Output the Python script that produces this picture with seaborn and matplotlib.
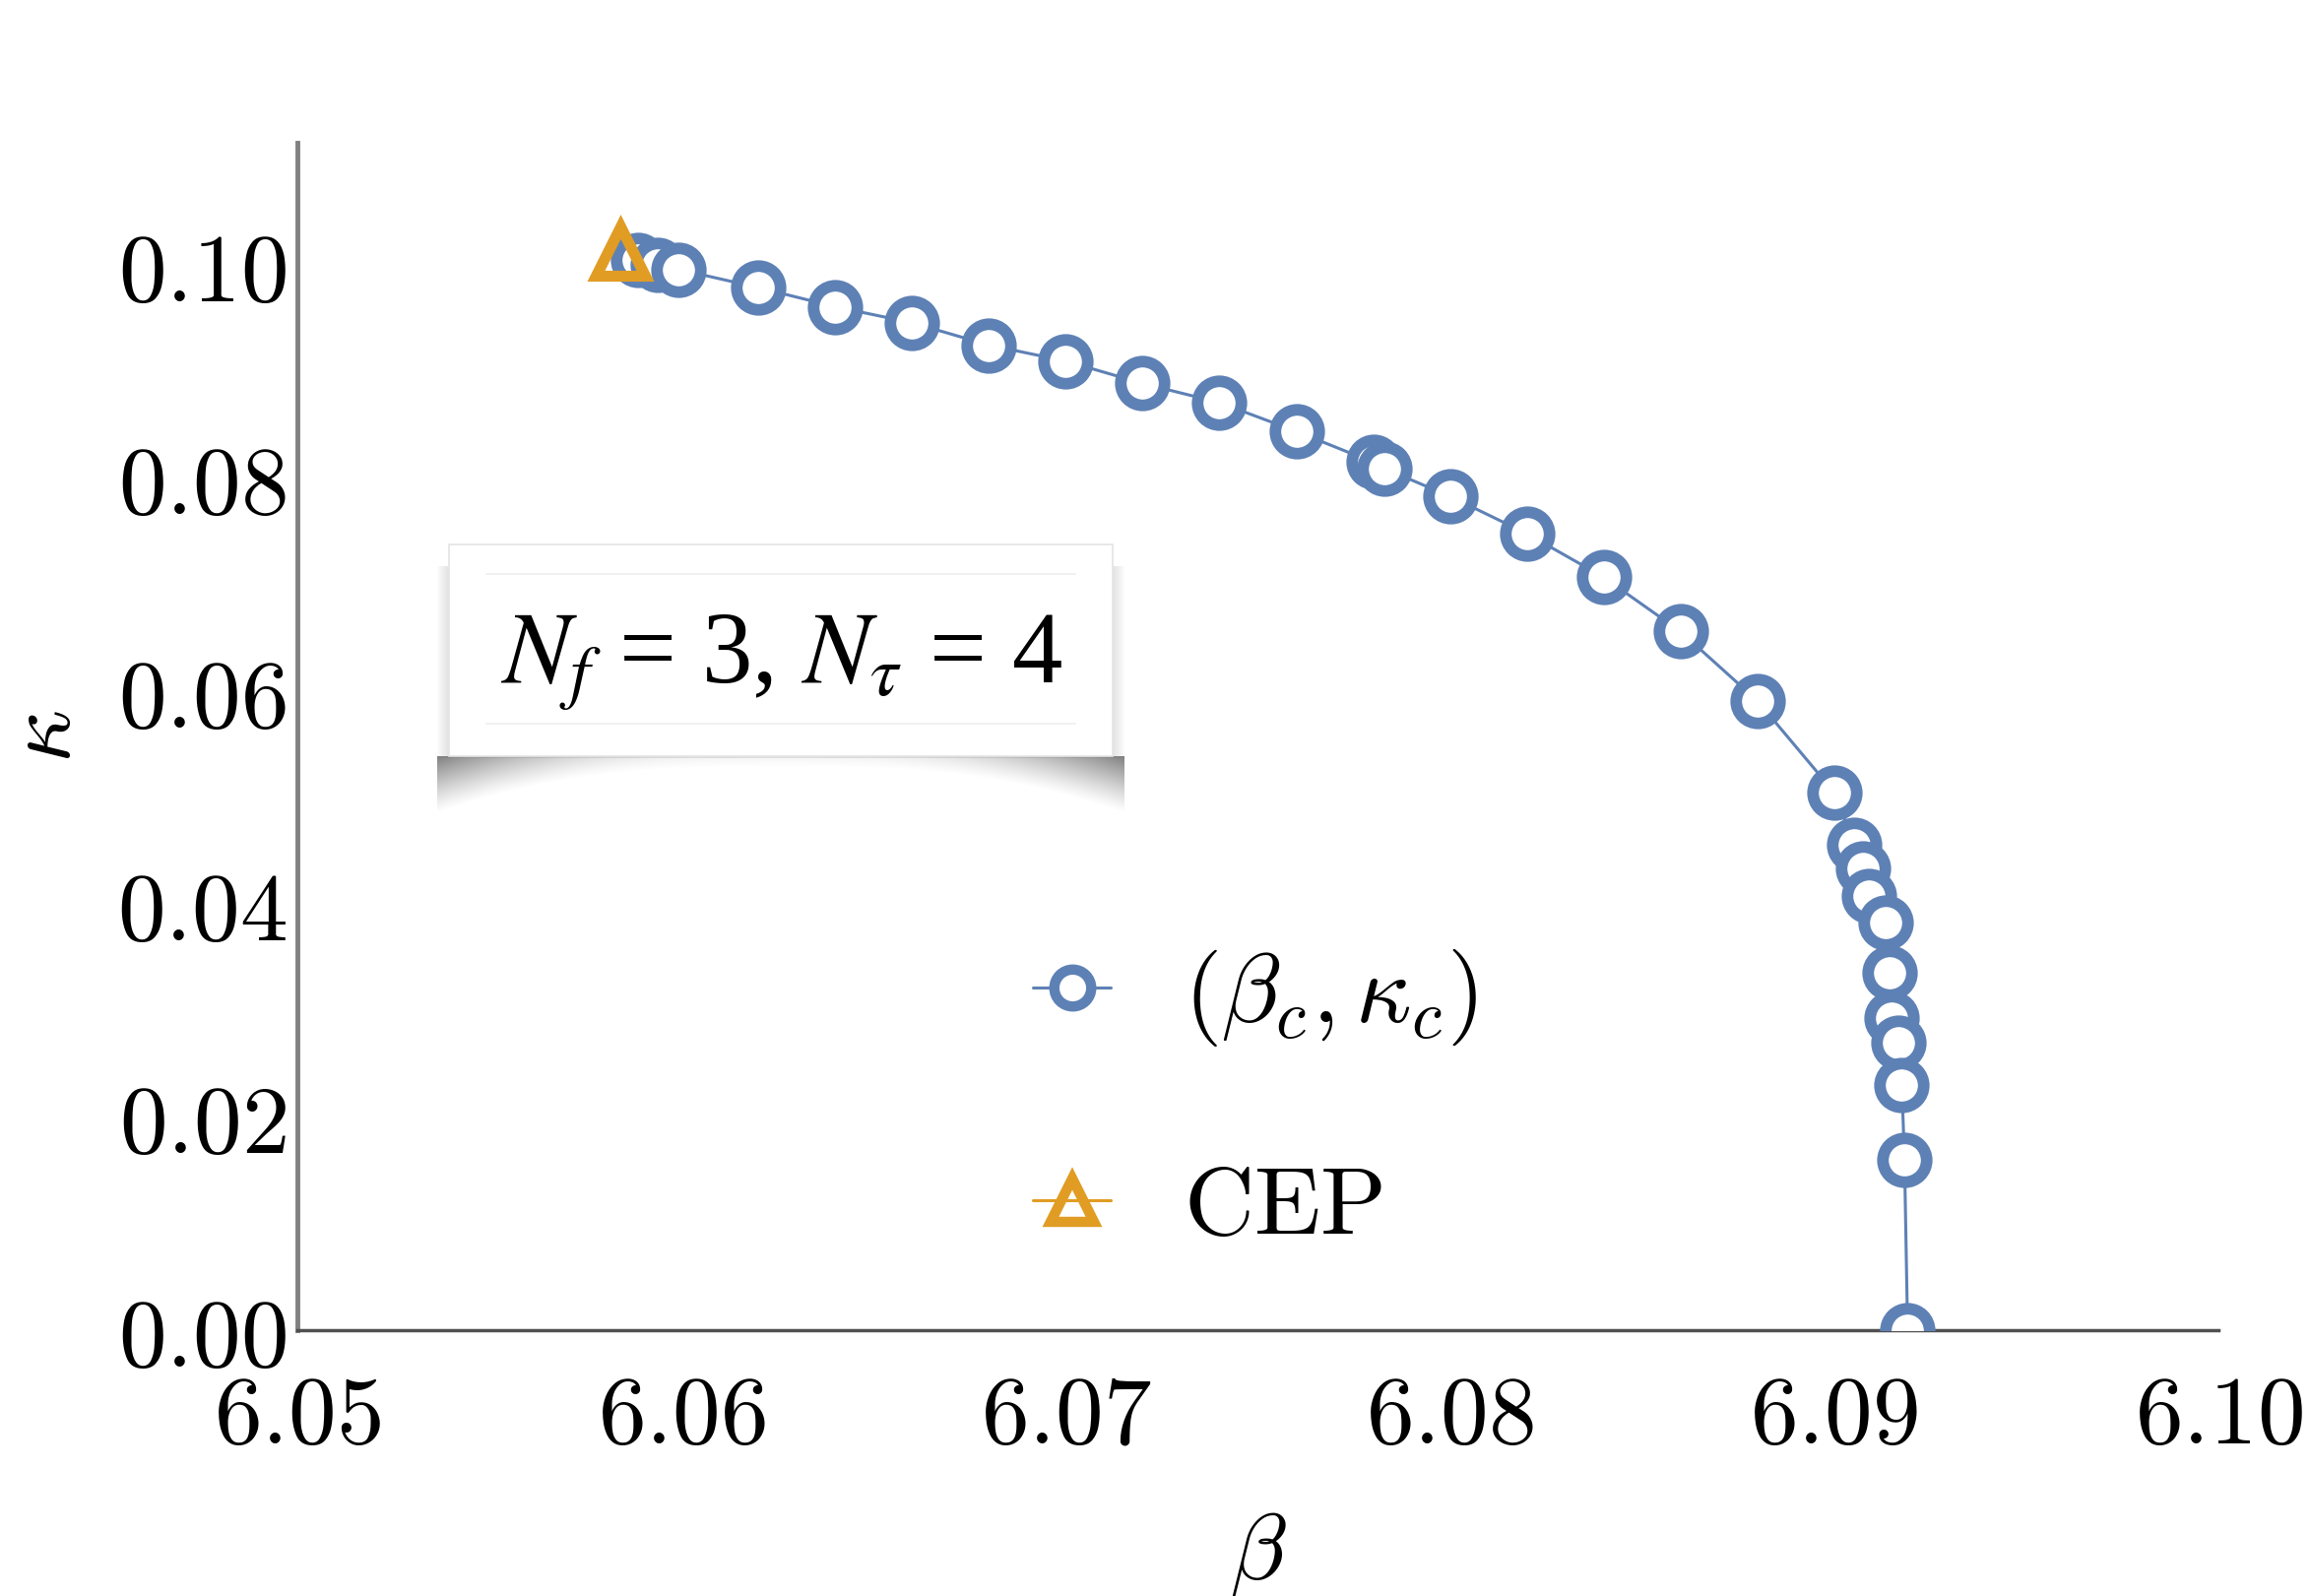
import numpy as np
import pandas as pd
import matplotlib
matplotlib.use('Agg')
import matplotlib.pyplot as plt
from matplotlib.lines import Line2D
from matplotlib.patches import Rectangle
from matplotlib.ticker import MultipleLocator
import seaborn as sns

# ----------------------------------------------------
# Data
# ----------------------------------------------------
beta_c = [6.05886, 6.05939, 6.05993, 6.0620, 6.0640, 6.0660, 6.0680, 6.0700,
          6.0720, 6.0740, 6.0760, 6.0780, 6.0783, 6.0800, 6.0820, 6.0840,
          6.0860, 6.0880, 6.0900, 6.09053, 6.09076, 6.09091, 6.09133, 6.09145,
          6.09149, 6.09168, 6.09176, 6.09183, 6.09191]
kappa_c = [0.1005, 0.1000, 0.0996, 0.0979, 0.0961, 0.0946, 0.0925, 0.0910,
           0.0889, 0.0871, 0.0844, 0.0815, 0.0809, 0.0783, 0.0748, 0.0707,
           0.0656, 0.0591, 0.0505, 0.0456, 0.0434, 0.0408, 0.0383, 0.0336,
           0.0293, 0.0270, 0.0230, 0.0160, 0.0]

cep_beta = [6.0584]
cep_kappa = [0.1013]

xticks = [6.05, 6.06, 6.07, 6.08, 6.09, 6.10]
xtick_labels = ['6.05', '6.06', '6.07', '6.08', '6.09', '6.10']
yticks = [0.00, 0.02, 0.04, 0.06, 0.08, 0.10]
ytick_labels = ['0.00', '0.02', '0.04', '0.06', '0.08', '0.10']

legend_labels = [r'$(\beta_c, \kappa_c)$', r'$\mathrm{CEP}$']
box_text = r'$N_f$ = 3, $N_\tau$ = 4'

blue = '#5E81B5'
orange = '#E19C24'

df = pd.DataFrame({'beta': beta_c, 'kappa': kappa_c})
df_cep = pd.DataFrame({'beta': cep_beta, 'kappa': cep_kappa})

# ----------------------------------------------------
# Figure setup
# ----------------------------------------------------
sns.set_theme(style='white')
plt.rcParams['mathtext.fontset'] = 'cm'
plt.rcParams['font.family'] = ['DejaVu Sans']
plt.rcParams['text.color'] = 'black'
plt.rcParams['axes.labelcolor'] = 'black'
plt.rcParams['xtick.color'] = 'black'
plt.rcParams['ytick.color'] = 'black'

W, H = 2346, 1621
fig = plt.figure(figsize=(W / 100, H / 100), dpi=100)
fig.patch.set_facecolor('white')
ax = fig.add_axes([302 / W, 1 - 1351 / H, (2253 - 302) / W, (1351 - 145) / H])
ax.set_facecolor('white')

sns.lineplot(data=df, x='beta', y='kappa', sort=False, estimator=None, ax=ax,
             color=blue, linewidth=2.2, marker='o', markersize=32,
             markeredgewidth=8.5, markerfacecolor='white', markeredgecolor=blue,
             legend=False, zorder=3)
sns.lineplot(data=df_cep, x='beta', y='kappa', ax=ax, estimator=None,
             color=orange, linewidth=0, marker='^', markersize=36,
             markeredgewidth=8, markerfacecolor='none', markeredgecolor=orange,
             legend=False, zorder=4, clip_on=False)

ax.set_xlim(6.05, 6.10)
ax.set_ylim(0, 0.1115)
ax.set_xticks(xticks, labels=['$' + t + '$' for t in xtick_labels])
ax.set_yticks(yticks, labels=['$' + t + '$' for t in ytick_labels])
ax.xaxis.set_minor_locator(MultipleLocator(0.002))
ax.yaxis.set_minor_locator(MultipleLocator(0.005))
ax.tick_params(axis='both', which='both', direction='in', color='black', width=2)
ax.tick_params(axis='both', which='major', length=9, labelsize=70, labelcolor='black')
ax.tick_params(axis='both', which='minor', length=5)
ax.tick_params(axis='x', which='major', pad=30)
ax.tick_params(axis='y', which='major', pad=8)

for s in ['top', 'right']:
    ax.spines[s].set_visible(False)
ax.spines['left'].set_color('#808080')
ax.spines['left'].set_linewidth(3.5)
ax.spines['bottom'].set_color('#505050')
ax.spines['bottom'].set_linewidth(2.5)

ax.set_xlabel(r'$\beta$', fontsize=68)
ax.set_ylabel(r'$\kappa$', fontsize=68)
ax.xaxis.set_label_coords(0.5, -0.15)
ax.yaxis.set_label_coords(-0.108, 0.5)

# legend
handles = [
    Line2D([], [], color=blue, lw=2.2, marker='o', ms=27, mew=7.5,
           mfc='white', mec=blue),
    Line2D([], [], color=orange, lw=2.2, marker='^', ms=32, mew=7.5,
           mfc='none', mec=orange),
]
ax.legend(handles, legend_labels, loc='center left', bbox_to_anchor=(0.383, 0.193),
          frameon=False, fontsize=71, handlelength=0.8, handletextpad=0.75,
          labelspacing=1.15, borderpad=0, borderaxespad=0)

# ----------------------------------------------------
# Label box with curled drop shadow
# ----------------------------------------------------
bx0, bx1, by0, by1 = 456, 1130, 553, 768   # pixels, from top-left
sx0, sx1, sdepth = bx0 - 12, bx1 + 12, 58

ax_sh = fig.add_axes([sx0 / W, 1 - (by1 + sdepth) / H, (sx1 - sx0) / W, sdepth / H])
ax_sh.set_axis_off()
ax_sh.set_zorder(2)
u = np.linspace(0, 1, 400)[None, :]
v = np.linspace(0, 1, 120)[:, None]
edge = (1 - np.sin(np.pi * u)) ** 1.6
depth = 0.2 + 0.8 * edge
strength = 0.06 + 0.6 * edge
alpha = np.clip(1 - v / depth, 0, 1) ** 1.2 * strength
rgba = np.zeros((120, 400, 4))
rgba[..., :3] = 0.25
rgba[..., 3] = alpha
ax_sh.imshow(rgba, aspect='auto', extent=(0, 1, 1, 0), interpolation='bilinear')
ax_sh.set_xlim(0, 1)
ax_sh.set_ylim(1, 0)

# soft side shadow round the box
for k in range(1, 7):
    fig.add_artist(Rectangle(((bx0 - 2 * k) / W, 1 - (by1 + 2) / H),
                             (bx1 - bx0 + 4 * k) / W, (by1 - by0 - 20) / H,
                             transform=fig.transFigure, facecolor='#808080',
                             edgecolor='none', alpha=0.035, zorder=4))

box = Rectangle((bx0 / W, 1 - by1 / H), (bx1 - bx0) / W, (by1 - by0) / H,
                transform=fig.transFigure, facecolor='white', edgecolor='#e4e4e4',
                linewidth=1.2, zorder=5)
fig.add_artist(box)
for ly in [583, 735]:
    fig.add_artist(Line2D([494 / W, 1092 / W], [1 - ly / H, 1 - ly / H],
                          transform=fig.transFigure, color='#eeeeee', lw=1.2, zorder=6))
fig.text((bx0 + bx1) / 2 / W, 1 - 674 / H, box_text, fontsize=74, color='black',
         family=['Liberation Serif', 'DejaVu Serif'], math_fontfamily='stix',
         ha='center', va='center', zorder=7)

fig.savefig('out.png', dpi=100, facecolor='white')
